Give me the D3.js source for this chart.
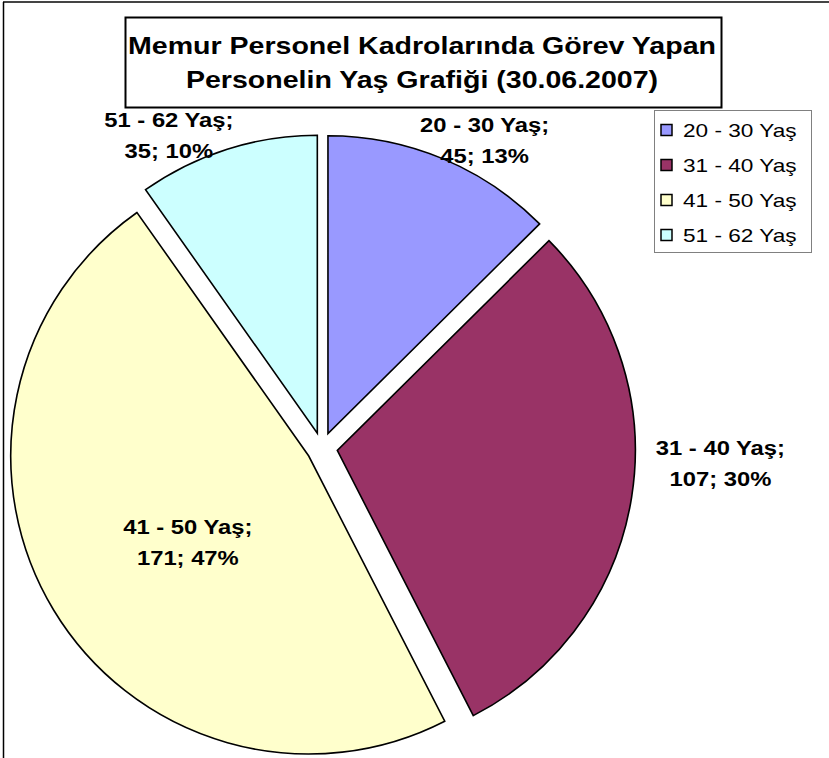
<!DOCTYPE html>
<head>
  <meta charset="utf-8" />
  <script src="https://d3js.org/d3.v7.min.js"></script>
  <style>
    body {
      margin: 0;
      background: #fff;
    }
    text {
      font-family: Arial, "Liberation Sans", sans-serif;
    }
    .slice {
      stroke: #000;
      stroke-width: 1.6px;
    }
    .lbl {
      font-weight: bold;
      font-size: 20px;
      fill: #000;
    }
  </style>
</head>

<body>
  <script>
    // donnees du graphique
    var categories = ["20 - 30 Yaş", "31 - 40 Yaş", "41 - 50 Yaş", "51 - 62 Yaş"];
    var values = [45, 107, 171, 35];
    var percents = ["13%", "30%", "47%", "10%"];
    var colors = ["#9999FF", "#993366", "#FFFFCC", "#CCFFFF"];
    var titleLines = ["Memur Personel Kadrolarında Görev Yapan", "Personelin Yaş Grafiği (30.06.2007)"];

    var width = 829,
      height = 758;

    var cx = 322, cy = 448, radius = 298, explode = 15.5;
    var sx = 1.19; // le graphique d'origine est etire horizontalement

    // position des etiquettes : angle (degres) et distance au centre
    var labelPlace = [[28.4, 342], [93.2, 399], [233, 168], [333.4, 342]];

    var svg = d3
      .select("body")
      .append("svg")
      .attr("width", width)
      .attr("height", height);

    // cadre du graphique (haut et gauche seulement visibles)
    svg.append("line").attr("x1", 3).attr("x2", width).attr("y1", 2).attr("y2", 2)
      .attr("stroke", "#444").attr("stroke-width", 2);
    svg.append("line").attr("x1", 3.5).attr("x2", 3.5).attr("y1", 2).attr("y2", height)
      .attr("stroke", "#000").attr("stroke-width", 1.5);

    var pie = d3.pie().sort(null).value(function (d) { return d; });
    var arc = d3.arc().innerRadius(0).outerRadius(radius);
    var arcs = pie(values);

    var g = svg.append("g").attr("transform", "translate(" + cx + "," + cy + ")");

    g.selectAll("path")
      .data(arcs)
      .join("path")
      .attr("class", "slice")
      .attr("d", arc)
      .attr("fill", function (d, i) { return colors[i]; })
      .attr("transform", function (d) {
        var mid = (d.startAngle + d.endAngle) / 2;
        return "translate(" + (Math.sin(mid) * explode) + "," + (-Math.cos(mid) * explode) + ")";
      });

    // texte etire horizontalement
    function stretchedText(parent, x, y, str, cls, anchor) {
      return parent.append("g")
        .attr("transform", "translate(" + x + "," + y + ") scale(" + sx + ",1)")
        .append("text")
        .attr("class", cls)
        .attr("text-anchor", anchor || "middle")
        .text(str);
    }

    // etiquettes des parts
    arcs.forEach(function (d, i) {
      var a = labelPlace[i][0] * Math.PI / 180, r = labelPlace[i][1];
      var x = cx + Math.sin(a) * r, y = cy - Math.cos(a) * r;
      stretchedText(svg, x, y - 15.5, categories[i] + ";", "lbl");
      stretchedText(svg, x, y + 16, values[i] + "; " + percents[i], "lbl");
    });

    // titre
    svg.append("rect").attr("x", 125.5).attr("y", 17.5).attr("width", 596).attr("height", 90)
      .attr("fill", "#fff").attr("stroke", "#000").attr("stroke-width", 2);
    titleLines.forEach(function (t, i) {
      stretchedText(svg, 422, 54 + i * 34, t, "lbl").style("font-size", "24px");
    });

    // legende
    var legend = svg.append("g");
    legend.append("rect").attr("x", 654.5).attr("y", 110.5).attr("width", 157).attr("height", 142)
      .attr("fill", "#fff").attr("stroke", "#808080").attr("stroke-width", 1);
    var item = legend.selectAll("g.item")
      .data(categories)
      .join("g")
      .attr("class", "item")
      .attr("transform", function (d, i) { return "translate(0," + (130 + i * 35) + ")"; });
    item.append("rect")
      .attr("x", 661).attr("y", -5.5).attr("width", 11).attr("height", 11)
      .attr("fill", function (d, i) { return colors[i]; })
      .attr("stroke", "#000").attr("stroke-width", 1.5);
    item.each(function (d) {
      stretchedText(d3.select(this), 683, 7, d, "leg", "start")
        .style("font-size", "19px");
    });
  </script>
</body>
